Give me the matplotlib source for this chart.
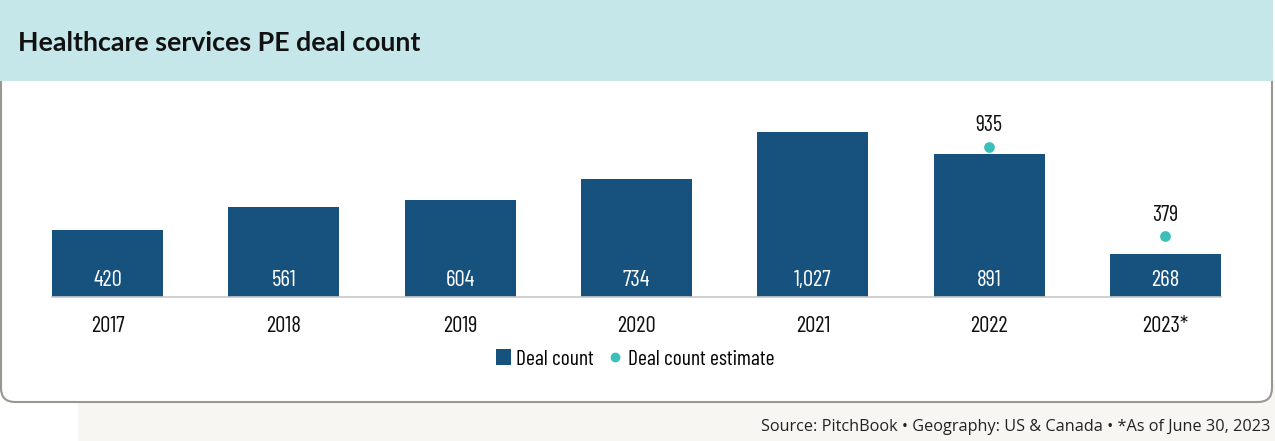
import matplotlib.pyplot as plt
from matplotlib.patches import Rectangle, FancyBboxPatch, Patch
from matplotlib.lines import Line2D

# Data
years = ['2017', '2018', '2019', '2020', '2021', '2022', '2023*']
deal_count = [420, 561, 604, 734, 1027, 891, 268]
estimate_idx = [5, 6]
estimate_vals = [935, 379]

BAR = '#17517e'
DOT = '#3bbfb9'
BAND = '#c5e7ea'
FOOT = '#f7f6f2'
NARROW = ['Barlow Condensed', 'DejaVu Sans']

fig = plt.figure(figsize=(12.75, 4.41), dpi=100)

# Background frame in pixel units
bg = fig.add_axes([0, 0, 1, 1], zorder=0)
bg.set_xlim(0, 1275)
bg.set_ylim(441, 0)
bg.axis('off')
bg.add_patch(Rectangle((78, 380), 1197, 61, facecolor=FOOT, edgecolor='none'))
bg.add_patch(FancyBboxPatch((1, 30), 1271, 372, boxstyle='round,pad=0,rounding_size=14',
                            facecolor='white', edgecolor='#9a9690', linewidth=1.5))
bg.add_patch(Rectangle((0, 0), 1273, 81, facecolor=BAND, edgecolor='none'))
bg.text(18, 43, 'Healthcare services PE deal count', fontsize=19.3, fontweight='bold',
        family=['Lato', 'DejaVu Sans'], va='center', ha='left', color='#111111')
bg.text(1270, 427, 'Source: PitchBook \u2022 Geography: US & Canada \u2022 *As of June 30, 2023',
        fontsize=11.7, family=['Open Sans', 'DejaVu Sans'], ha='right', va='center',
        color='#222222')

# Chart
ax = fig.add_axes([52 / 1275, (441 - 297) / 441, 1169 / 1275, 197 / 441], zorder=1)
ax.patch.set_alpha(0)
x = list(range(len(years)))
ax.bar(x, deal_count, width=0.63, color=BAR, zorder=2)
ax.scatter(estimate_idx, estimate_vals, s=45, color=DOT, zorder=3)
ax.set_xlim(-0.315, 6.315)
ax.set_ylim(0, 1226)

for i, v in zip(x, deal_count):
    ax.text(i, 100, f'{v:,}', ha='center', va='center', color='white', fontsize=16.5, family=NARROW)
for i, v in zip(estimate_idx, estimate_vals):
    ax.annotate(f'{v:,}', (i, v), xytext=(0, 15), textcoords='offset points',
                ha='center', va='center', fontsize=16, family=NARROW, color='#111111')

ax.set_xticks(x)
ax.set_xticklabels(years, fontsize=16.5, family=NARROW, color='#111111')
ax.tick_params(axis='x', length=0, pad=14)
ax.set_yticks([])
for s in ['top', 'right', 'left']:
    ax.spines[s].set_visible(False)
ax.spines['bottom'].set_color('#c8c8c8')
ax.spines['bottom'].set_linewidth(1.2)

handles = [Patch(facecolor=BAR, edgecolor='none'),
           Line2D([], [], marker='o', linestyle='none', color=DOT, markersize=6)]
fig.legend(handles, ['Deal count', 'Deal count estimate'], loc='center',
           bbox_to_anchor=(635 / 1275, (441 - 359) / 441), ncol=2, frameon=False,
           prop={'family': NARROW, 'size': 15.5}, handlelength=0.7, handleheight=0.7,
           handletextpad=0.25, columnspacing=0.6)

fig.savefig('out.png', dpi=100)
